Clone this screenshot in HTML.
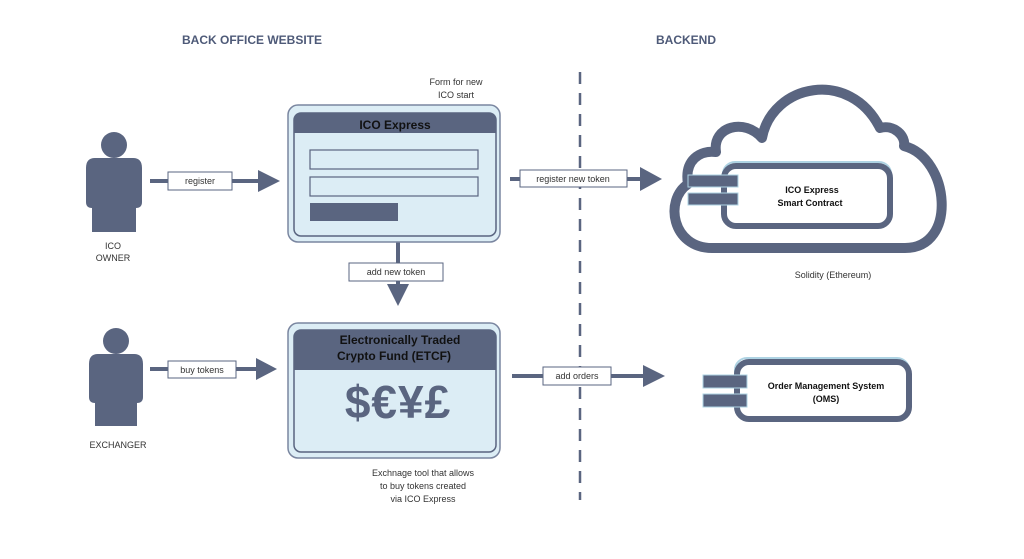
<!DOCTYPE html>
<html><head><meta charset="utf-8"><style>
html,body{margin:0;padding:0;background:#fff;}
svg{display:block;font-family:"Liberation Sans",sans-serif;}
</style></head><body>
<svg width="1024" height="559" viewBox="0 0 1024 559" xmlns="http://www.w3.org/2000/svg">
<rect width="1024" height="559" fill="#fff"/>
<g fill="#4e5a78" font-weight="bold" font-size="12" text-anchor="middle">
<text x="252" y="44">BACK OFFICE WEBSITE</text>
<text x="686" y="44">BACKEND</text>
</g>
<line x1="580" y1="72" x2="580" y2="500" stroke="#5a6580" stroke-width="2.5" stroke-dasharray="12,9"/>

<g fill="#5a6580">
<circle cx="114" cy="145" r="13"/>
<path d="M95,158 H133 Q142,158 142,168 V202 Q142,208 136,208 V232 H92 V208 Q86,208 86,202 V168 Q86,158 95,158Z"/>
<circle cx="116" cy="341" r="13"/>
<path d="M98,354 H134 Q143,354 143,364 V397 Q143,403 137,403 V426 H95 V403 Q89,403 89,397 V364 Q89,354 98,354Z"/>
</g>
<g font-size="9" fill="#333" text-anchor="middle">
<text x="113" y="249">ICO</text><text x="113" y="261">OWNER</text>
<text x="118" y="448">EXCHANGER</text>
<text x="456" y="85">Form for  new</text><text x="456" y="98">ICO start</text>
<text x="833" y="278">Solidity (Ethereum)</text>
<text x="423" y="476">Exchnage tool that allows</text>
<text x="423" y="489">to buy tokens created</text>
<text x="423" y="502">via ICO Express</text>
</g>

<g stroke="#5a6580" stroke-width="4" fill="none">
<line x1="150" y1="181" x2="260" y2="181"/>
<line x1="150" y1="369" x2="258" y2="369"/>
<line x1="398" y1="242" x2="398" y2="285"/>
<line x1="510" y1="179" x2="642" y2="179"/>
<line x1="512" y1="376" x2="645" y2="376"/>
</g>
<g fill="#5a6580">
<polygon points="258,170 280,181 258,192"/>
<polygon points="256,358 277,369 256,380"/>
<polygon points="387,284 409,284 398,306"/>
<polygon points="640,167 662,179 640,191"/>
<polygon points="643,365 665,376 643,387"/>
</g>
<g fill="#fff" stroke="#5a6580" stroke-width="1">
<rect x="168" y="172" width="64" height="18"/>
<rect x="168" y="361" width="68" height="17"/>
<rect x="349" y="263" width="94" height="18"/>
<rect x="520" y="170" width="107" height="17"/>
<rect x="543" y="367" width="68" height="18"/>
</g>
<g font-size="9" fill="#333" text-anchor="middle">
<text x="200" y="184">register</text>
<text x="202" y="373">buy tokens</text>
<text x="396" y="275">add new token</text>
<text x="573" y="182">register new token</text>
<text x="577" y="379">add orders</text>
</g>

<rect x="288" y="105" width="212" height="137" rx="10" fill="#dcedf5" stroke="#7a86a0" stroke-width="1.5"/>
<rect x="294" y="113" width="202" height="123" rx="7" fill="#dcedf5" stroke="#5a6580" stroke-width="1.5"/>
<path d="M294,133 V120 Q294,113 301,113 H489 Q496,113 496,120 V133Z" fill="#5a6580"/>
<text x="395" y="129" font-size="12" font-weight="bold" fill="#111" text-anchor="middle">ICO Express</text>
<rect x="310" y="150" width="168" height="19" fill="#dcedf5" stroke="#5a6580" stroke-width="1.2"/>
<rect x="310" y="177" width="168" height="19" fill="#dcedf5" stroke="#5a6580" stroke-width="1.2"/>
<rect x="310" y="203" width="88" height="18" fill="#5a6580"/>

<rect x="288" y="323" width="212" height="135" rx="10" fill="#dcedf5" stroke="#7a86a0" stroke-width="1.5"/>
<rect x="294" y="330" width="202" height="122" rx="7" fill="#dcedf5" stroke="#5a6580" stroke-width="1.5"/>
<path d="M294,370 V337 Q294,330 301,330 H489 Q496,330 496,337 V370Z" fill="#5a6580"/>
<text x="400" y="344" font-size="12" font-weight="bold" fill="#111" text-anchor="middle">Electronically Traded</text>
<text x="394" y="360" font-size="12" font-weight="bold" fill="#111" text-anchor="middle">Crypto Fund (ETCF)</text>
<text x="398" y="418" font-size="46" font-weight="bold" fill="#5a6580" text-anchor="middle" letter-spacing="1">$€¥£</text>

<path d="M712,248 C672,248 664,200 688,184 C684,160 700,150 716,152 C712,126 745,118 762,138 C772,84 850,68 880,128 C894,124 906,136 904,146 C950,158 958,248 905,248 Z" fill="none" stroke="#5a6580" stroke-width="10" stroke-linejoin="round"/>

<rect x="723" y="162" width="168" height="62" rx="12" fill="#fff" stroke="#aed3e3" stroke-width="2"/>
<rect x="724" y="166" width="166" height="60" rx="12" fill="#fff" stroke="#5a6580" stroke-width="6"/>
<rect x="688" y="175" width="50" height="12" fill="#5a6580" stroke="#aed3e3" stroke-width="1"/>
<rect x="688" y="193" width="50" height="12" fill="#5a6580" stroke="#aed3e3" stroke-width="1"/>
<text x="812" y="193" font-size="9" font-weight="bold" fill="#111" text-anchor="middle">ICO Express</text>
<text x="810" y="206" font-size="9" font-weight="bold" fill="#111" text-anchor="middle">Smart Contract</text>

<rect x="735" y="358" width="174" height="60" rx="12" fill="#fff" stroke="#aed3e3" stroke-width="2"/>
<rect x="737" y="362" width="172" height="57" rx="12" fill="#fff" stroke="#5a6580" stroke-width="6"/>
<rect x="703" y="375" width="44" height="13" fill="#5a6580" stroke="#aed3e3" stroke-width="1"/>
<rect x="703" y="394" width="44" height="13" fill="#5a6580" stroke="#aed3e3" stroke-width="1"/>
<text x="826" y="389" font-size="9" font-weight="bold" fill="#111" text-anchor="middle">Order Management System</text>
<text x="826" y="402" font-size="9" font-weight="bold" fill="#111" text-anchor="middle">(OMS)</text>
</svg>
</body></html>
